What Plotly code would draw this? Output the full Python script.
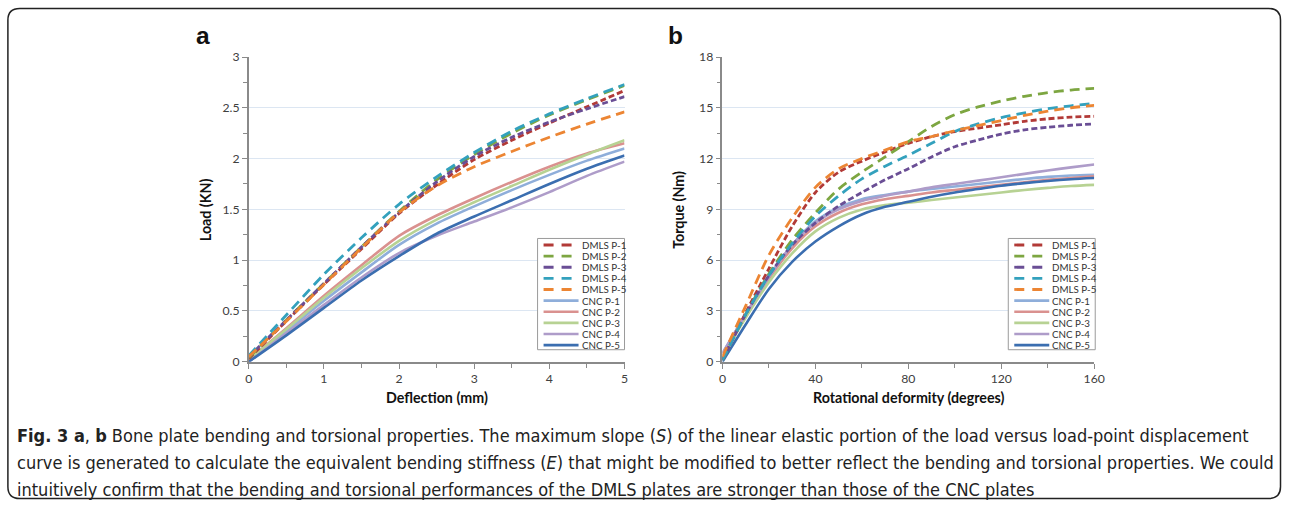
import plotly.graph_objects as go

W, H = 1292, 506
# measured capture transform (photo px = T + S * page px); positions below are
# given in reference-picture pixels and converted back to page pixels.
SX, TX = 0.989, 5.1
SY, TY = 0.968, 8.1
FS = 1 / 0.98  # font compensation

series_names = ["DMLS P-1", "DMLS P-2", "DMLS P-3", "DMLS P-4", "DMLS P-5",
                "CNC P-1", "CNC P-2", "CNC P-3", "CNC P-4", "CNC P-5"]
series_colors = ["#B23A37", "#7DA641", "#6A4E95", "#33A1BD", "#EC8533",
                 "#8FAEDA", "#DA918F", "#B7D293", "#AE9CC9", "#3B6EB0"]
series_dash = ["6px,3px", "10px,6px", "6px,3px", "10px,6px", "10px,6px",
               "solid", "solid", "solid", "solid", "solid"]

# ---- panel a: bending ----
deflection = [0, 0.5, 1, 1.5, 2, 2.5, 3, 3.5, 4, 4.5, 5]
load_dmls_p1 = [0.03, 0.40, 0.76, 1.11, 1.46, 1.74, 1.99, 2.18, 2.35, 2.51, 2.67]
load_dmls_p2 = [0.04, 0.41, 0.77, 1.13, 1.48, 1.79, 2.04, 2.25, 2.43, 2.58, 2.72]
load_dmls_p3 = [0.05, 0.41, 0.77, 1.13, 1.47, 1.77, 2.02, 2.21, 2.36, 2.49, 2.61]
load_dmls_p4 = [0.06, 0.46, 0.86, 1.22, 1.55, 1.82, 2.06, 2.27, 2.44, 2.59, 2.73]
load_dmls_p5 = [0.05, 0.40, 0.76, 1.12, 1.47, 1.73, 1.92, 2.07, 2.21, 2.34, 2.46]
load_cnc_p1 = [0.01, 0.30, 0.60, 0.88, 1.15, 1.36, 1.53, 1.69, 1.84, 1.98, 2.10]
load_cnc_p2 = [0.02, 0.33, 0.65, 0.95, 1.24, 1.44, 1.61, 1.77, 1.92, 2.05, 2.15]
load_cnc_p3 = [0.02, 0.32, 0.63, 0.92, 1.19, 1.40, 1.57, 1.73, 1.89, 2.04, 2.18]
load_cnc_p4 = [0.00, 0.28, 0.56, 0.83, 1.07, 1.24, 1.38, 1.52, 1.67, 1.83, 1.97]
load_cnc_p5 = [0.00, 0.26, 0.53, 0.80, 1.04, 1.26, 1.43, 1.59, 1.75, 1.90, 2.03]

# ---- panel b: torsion ----
rotation = [0, 10, 20, 30, 40, 50, 60, 70, 80, 90, 100, 110, 120, 130, 140, 150, 160]
torque_dmls_p1 = [0.1, 2.9, 5.5, 8.0, 10.0, 11.2, 11.85, 12.4, 12.9, 13.3, 13.6, 13.8, 14.0, 14.2, 14.35, 14.45, 14.5]
torque_dmls_p2 = [0.1, 2.8, 5.2, 7.2, 8.8, 10.2, 11.2, 12.1, 13.0, 13.9, 14.6, 15.05, 15.4, 15.68, 15.9, 16.05, 16.15]
torque_dmls_p3 = [0.1, 2.8, 5.1, 6.9, 8.2, 9.2, 10.0, 10.75, 11.4, 12.1, 12.7, 13.1, 13.45, 13.7, 13.85, 13.97, 14.05]
torque_dmls_p4 = [0.1, 2.8, 5.1, 7.0, 8.6, 9.8, 10.8, 11.55, 12.2, 12.9, 13.6, 14.05, 14.42, 14.7, 14.95, 15.12, 15.25]
torque_dmls_p5 = [0.3, 3.3, 6.3, 8.5, 10.3, 11.4, 12.0, 12.5, 13.0, 13.3, 13.65, 13.95, 14.25, 14.55, 14.8, 15.0, 15.15]
torque_cnc_p1 = [0.5, 2.8, 5.0, 6.9, 8.3, 9.1, 9.6, 9.85, 10.05, 10.2, 10.35, 10.5, 10.65, 10.8, 10.92, 11.0, 11.05]
torque_cnc_p2 = [0.3, 2.7, 4.9, 6.7, 8.0, 8.8, 9.3, 9.6, 9.8, 10.0, 10.15, 10.3, 10.45, 10.6, 10.75, 10.85, 10.95]
torque_cnc_p3 = [0.3, 2.6, 4.7, 6.4, 7.7, 8.5, 9.0, 9.25, 9.4, 9.55, 9.7, 9.85, 10.0, 10.15, 10.27, 10.38, 10.45]
torque_cnc_p4 = [0.5, 2.8, 5.0, 6.9, 8.2, 9.0, 9.5, 9.8, 10.05, 10.3, 10.5, 10.7, 10.9, 11.1, 11.3, 11.48, 11.65]
torque_cnc_p5 = [0.0, 2.2, 4.3, 5.9, 7.1, 8.0, 8.7, 9.15, 9.45, 9.75, 10.0, 10.2, 10.4, 10.55, 10.68, 10.78, 10.85]

load_series = [load_dmls_p1, load_dmls_p2, load_dmls_p3, load_dmls_p4, load_dmls_p5,
               load_cnc_p1, load_cnc_p2, load_cnc_p3, load_cnc_p4, load_cnc_p5]
torque_series = [torque_dmls_p1, torque_dmls_p2, torque_dmls_p3, torque_dmls_p4, torque_dmls_p5,
                 torque_cnc_p1, torque_cnc_p2, torque_cnc_p3, torque_cnc_p4, torque_cnc_p5]

load_ticks = [0, 0.5, 1, 1.5, 2, 2.5, 3]
deflection_ticks = [0, 1, 2, 3, 4, 5]
torque_ticks = [0, 3, 6, 9, 12, 15, 18]
rotation_ticks = [0, 40, 80, 120, 160]

caption_lines = [
    "<b>Fig. 3 a</b>, <b>b</b> Bone plate bending and torsional properties. The maximum slope (<i>S</i>) of the linear elastic portion of the load versus load-point displacement",
    "curve is generated to calculate the equivalent bending stiffness (<i>E</i>) that might be modified to better reflect the bending and torsional properties. We could",
    "intuitively confirm that the bending and torsional performances of the DMLS plates are stronger than those of the CNC plates",
]


def px(x):
    return min(max((x - TX) / SX, 0.5), W - 0.5) / W


def py(y):
    return 1 - min(max((y - TY) / SY, 0.5), H - 0.5) / H


fig = go.Figure()

order = [5, 6, 7, 8, 9, 0, 1, 2, 3, 4]
for i in order:
    fig.add_trace(go.Scatter(
        x=deflection, y=load_series[i], name=series_names[i], mode="lines",
        line=dict(color=series_colors[i], width=2.8 if i < 5 else 2.6,
                  dash=series_dash[i], shape="spline", smoothing=0.8),
        xaxis="x", yaxis="y", showlegend=False))
for i in order:
    fig.add_trace(go.Scatter(
        x=rotation, y=torque_series[i], name=series_names[i], mode="lines",
        line=dict(color=series_colors[i], width=2.8 if i < 5 else 2.6,
                  dash=series_dash[i], shape="spline", smoothing=0.8),
        xaxis="x2", yaxis="y2", showlegend=False))

axis_color = "#8a8a8a"
tickfont = dict(family="Lato, Open Sans, sans-serif", size=12 * FS, color="#404040")
common_x = dict(showline=True, linecolor=axis_color, linewidth=1.5, ticks="outside",
                ticklen=5, tickwidth=1, tickcolor=axis_color, showgrid=False,
                zeroline=False, tickfont=tickfont, fixedrange=True)
common_y = dict(showline=True, linecolor=axis_color, linewidth=1.5, ticks="outside",
                ticklen=5, tickwidth=1, tickcolor=axis_color, showgrid=True,
                gridcolor="#DCE6F2", gridwidth=1, zeroline=False, tickfont=tickfont,
                fixedrange=True)

ydom = [py(361), py(57)]
fig.update_layout(
    width=W, height=H,
    margin=dict(l=0, r=0, t=0, b=0),
    paper_bgcolor="white", plot_bgcolor="white",
    xaxis=dict(domain=[px(250), px(626)], range=[0, 5], tickvals=deflection_ticks,
               minor=dict(dtick=0.5, ticks="outside", ticklen=4, tickcolor=axis_color),
               anchor="y", **common_x),
    yaxis=dict(domain=ydom, range=[0, 3], tickvals=load_ticks,
               ticktext=[f"{v:g}" for v in load_ticks],
               minor=dict(dtick=0.25, ticks="outside", ticklen=4, tickcolor=axis_color, showgrid=False),
               anchor="x", **common_y),
    xaxis2=dict(domain=[px(724), px(1096)], range=[0, 160], tickvals=rotation_ticks,
                minor=dict(dtick=20, ticks="outside", ticklen=4, tickcolor=axis_color),
                anchor="y2", **common_x),
    yaxis2=dict(domain=ydom, range=[0, 18], tickvals=torque_ticks,
                minor=dict(dtick=1.5, ticks="outside", ticklen=4, tickcolor=axis_color, showgrid=False),
                anchor="x2", **common_y),
)

shapes = []
annotations = []

# outer rounded border
x0, y0, x1, y1, r = px(9), py(8.5), px(1289), py(502), 12
rx, ry = r / W, r / H
path = (f"M {x0+rx},{y0} L {x1-rx},{y0} Q {x1},{y0} {x1},{y0-ry} "
        f"L {x1},{y1+ry} Q {x1},{y1} {x1-rx},{y1} L {x0+rx},{y1} "
        f"Q {x0},{y1} {x0},{y1+ry} L {x0},{y0-ry} Q {x0},{y0} {x0+rx},{y0} Z")
shapes.append(dict(type="path", xref="paper", yref="paper", path=path,
                   line=dict(color="#222222", width=1.5)))

# compact Excel-style legends
legend_font = dict(family="Lato, Open Sans, sans-serif", size=9.6 * FS, color="#333333")
for (bx0, bx1) in [(539, 626), (1010, 1097)]:
    shapes.append(dict(type="rect", xref="paper", yref="paper",
                       x0=px(bx0), x1=px(bx1), y0=py(349), y1=py(238),
                       line=dict(color="#9a9a9a", width=1), fillcolor="white"))
    for k in range(10):
        yc = 244.5 + k * 11.1
        is_dash = k < 5
        lx0 = bx0 + 6
        lx1 = bx0 + (36 if is_dash else 41)
        shapes.append(dict(type="line", xref="paper", yref="paper",
                           x0=px(lx0), x1=px(lx1), y0=py(yc), y1=py(yc),
                           line=dict(color=series_colors[k], width=2.8 if is_dash else 2.6,
                                     dash="10px,8px" if is_dash else "solid")))
        annotations.append(dict(xref="paper", yref="paper", x=px(bx0 + 42), y=py(yc),
                                xanchor="left", yanchor="middle", showarrow=False,
                                text=series_names[k], font=legend_font))

for txt, x in [("a", 204), ("b", 677)]:
    annotations.append(dict(xref="paper", yref="paper", x=px(x), y=py(36), text=f"<b>{txt}</b>",
                            showarrow=False, xanchor="center", yanchor="middle",
                            font=dict(family="Liberation Sans, Arial, sans-serif", size=24 * FS, color="#111")))

title_font = dict(family="Lato, Open Sans, sans-serif", size=14 * FS, color="#111")
annotations += [
    dict(xref="paper", yref="paper", x=px(207), y=py(209), text="<b>Load (KN)</b>", textangle=-90,
         showarrow=False, xanchor="center", yanchor="middle", font=title_font),
    dict(xref="paper", yref="paper", x=px(438), y=py(397), text="<b>Deflection (mm)</b>",
         showarrow=False, xanchor="center", yanchor="middle", font=title_font),
    dict(xref="paper", yref="paper", x=px(680), y=py(209), text="<b>Torque (Nm)</b>", textangle=-90,
         showarrow=False, xanchor="center", yanchor="middle", font=title_font),
    dict(xref="paper", yref="paper", x=px(910), y=py(397), text="<b>Rotational deformity (degrees)</b>",
         showarrow=False, xanchor="center", yanchor="middle", font=title_font),
]

cap_font = dict(family="DejaVu Sans Condensed, Liberation Sans Narrow, Liberation Sans, sans-serif",
                size=18.0, color="#222")
for k, line in enumerate(caption_lines):
    annotations.append(dict(xref="paper", yref="paper", x=px(16), y=py(435 + 26.6 * k), text=line,
                            showarrow=False, xanchor="left", yanchor="middle", font=cap_font))

fig.update_layout(shapes=shapes, annotations=annotations)
fig.write_html("out.html", config={"displayModeBar": False},
               post_script="document.body.style.margin='0';document.body.style.overflow='hidden';")
